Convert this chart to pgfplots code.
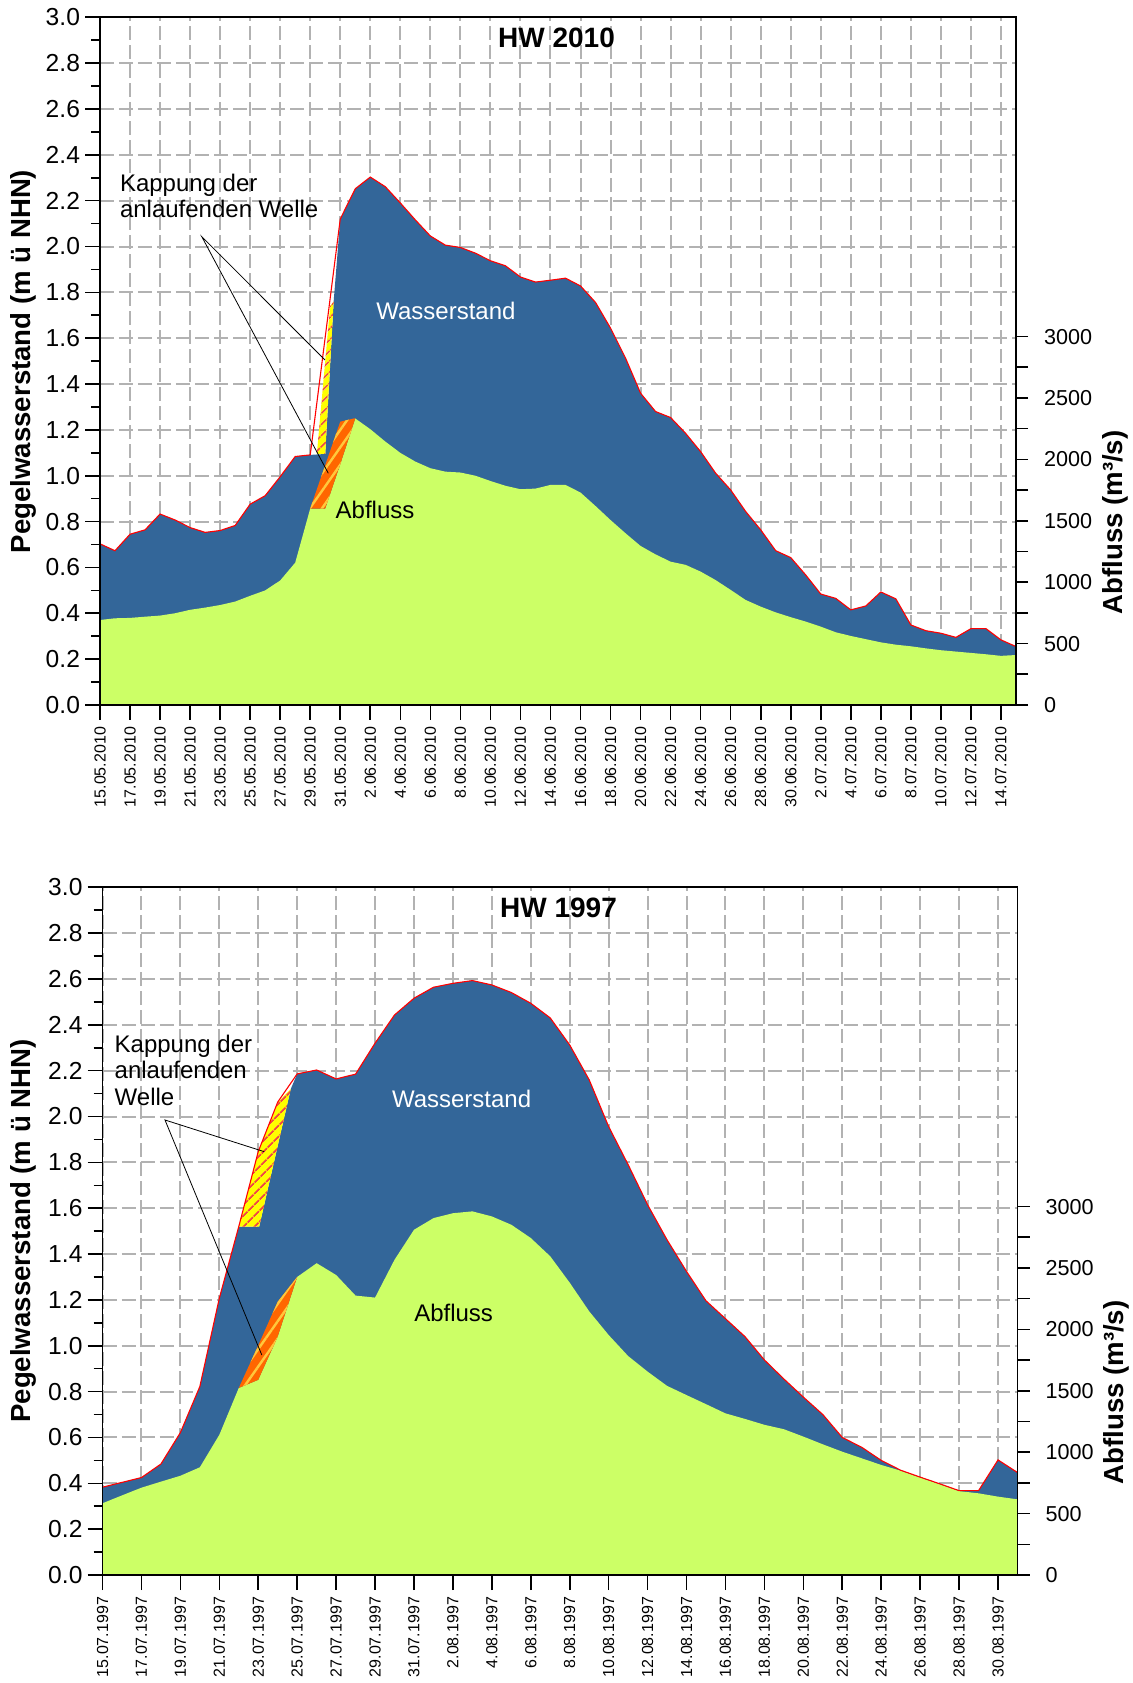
\documentclass[border=0pt]{standalone}
\usepackage{fontspec}
\setmainfont{Liberation Sans}
\usepackage{pgfplots}
\pgfplotsset{compat=1.18}
\usetikzlibrary{patterns.meta}

\definecolor{wblue}{RGB}{51,102,153}
\definecolor{agreen}{RGB}{204,255,102}
\definecolor{gridgray}{RGB}{178,178,178}
\definecolor{hyellow}{RGB}{255,255,0}
\definecolor{horange}{RGB}{255,102,0}
\definecolor{stripeO}{RGB}{255,200,60}
\definecolor{stripeY}{RGB}{240,70,70}

\newcommand{\ytl}{\fontsize{12.3}{14}\selectfont}
\newcommand{\rtl}{\fontsize{10.8}{12}\selectfont}
\newcommand{\xtl}{\fontsize{8}{9.6}\selectfont}
\newcommand{\axl}{\fontsize{13.8}{16}\selectfont\bfseries}
\newcommand{\ann}{\fontsize{12}{14}\selectfont}
\newcommand{\ttl}{\fontsize{14}{16}\selectfont\bfseries}

\pgfplotsset{
  base/.style={scale only axis, width=458pt, height=343.85pt, anchor=south west, enlargelimits=false},
  leftY/.style={ymin=0, ymax=3, ytick={0,0.2,0.4,0.6,0.8,1,1.2,1.4,1.6,1.8,2,2.2,2.4,2.6,2.8,3}},
  gridax/.style={base, leftY, xmajorgrids, ymajorgrids,
    major grid style={draw=gridgray, line width=1pt, dash pattern=on 7pt off 2.5pt},
    axis line style={draw=none}, major tick length=0pt, minor tick length=0pt,
    xticklabels={}, yticklabels={}},
  hidden/.style={base, hide axis},
  frameax/.style={base, leftY, axis line style={line width=0.85pt, black},
    tick pos=left, tick align=outside, major tick length=7.5pt, minor tick length=4.5pt,
    every tick/.style={black, line width=0.8pt},
    minor ytick={0.1,0.3,0.5,0.7,0.9,1.1,1.3,1.5,1.7,1.9,2.1,2.3,2.5,2.7,2.9},
    yticklabels={0.0,0.2,0.4,0.6,0.8,1.0,1.2,1.4,1.6,1.8,2.0,2.2,2.4,2.6,2.8,3.0},
    yticklabel style={font=\ytl, xshift=1pt},
    xticklabel style={font=\xtl, rotate=90, anchor=east},
    /pgf/number format/assume math mode=true},
  rightax/.style={base, ymin=0, ymax=5600, axis y line*=right, axis x line=none,
    xmin=0, xmax=1, ytick={0,500,1000,1500,2000,2500,3000},
    minor ytick={250,750,1250,1750,2250,2750},
    yticklabels={0,500,1000,1500,2000,2500,3000},
    tick align=outside, major tick length=6pt, minor tick length=6pt,
    every tick/.style={black, line width=0.8pt},
    axis line style={line width=0.85pt, black},
    yticklabel style={font=\rtl, xshift=4.5pt},
    /pgf/number format/assume math mode=true},
  bluefill/.style={draw=none, fill=wblue},
  greenfill/.style={draw=none, fill=agreen},
  yhatch/.style={draw=none, fill=hyellow, postaction={pattern={Lines[angle=45,distance=4pt,line width=0.9pt]}, pattern color=stripeY}},
  ohatch/.style={draw=none, fill=horange, postaction={pattern={Lines[angle=55,distance=5pt,line width=1.2pt]}, pattern color=stripeO}},
  redline/.style={red, line width=0.55pt, no markers},
}

\begin{document}
\begin{tikzpicture}
\useasboundingbox (0,0) rectangle (566pt,841.5pt);

%%%%%%%%%%%%%%%% TOP PANEL: HW 2010 %%%%%%%%%%%%%%%%
\begin{axis}[gridax, at={(50pt,489pt)}, xmin=0, xmax=61, xtick={0,2,...,60}]
 % Wasserstand (capped), m
 \addplot[bluefill] coordinates {(0,0.703)(1,0.673)(2,0.745)(3,0.764)(4,0.833)(5,0.807)(6,0.774)(7,0.753)(8,0.761)(9,0.783)(10,0.876)(11,0.913)(12,0.996)(13,1.084)(14,1.091)(15,1.095)(15.56,1.76)(16,2.12)(17,2.252)(18,2.303)(19,2.261)(20,2.19)(21,2.116)(22,2.046)(23,2.006)(24,1.996)(25,1.971)(26,1.938)(27,1.916)(28,1.867)(29,1.845)(30,1.853)(31,1.862)(32,1.828)(33,1.756)(34,1.644)(35,1.513)(36,1.36)(37,1.28)(38,1.254)(39,1.185)(40,1.105)(41,1.011)(42,0.938)(43,0.844)(44,0.764)(45,0.673)(46,0.643)(47,0.567)(48,0.484)(49,0.465)(50,0.415)(51,0.432)(52,0.493)(53,0.463)(54,0.349)(55,0.324)(56,0.313)(57,0.295)(58,0.333)(59,0.333)(60,0.284)(61,0.255)} \closedcycle;
 % Kappung Wasserstand
 \addplot[yhatch] coordinates {(14.44,1.095)(15.0,1.095)(15.56,1.76)(15.33,1.74)} -- cycle;
\end{axis}
\begin{axis}[hidden, at={(50pt,489pt)}, xmin=0, xmax=61, ymin=0, ymax=5600]
 % Abfluss (capped), m3/s
 \addplot[greenfill] coordinates {(0,692)(1,706)(2,709)(3,719)(4,728)(5,747)(6,775)(7,793)(8,814)(9,842)(10,889)(11,933)(12,1014)(13,1159)(14,1600)(15,1600)(16,1960)(17,2333)(18,2246)(19,2145)(20,2053)(21,1982)(22,1928)(23,1900)(24,1893)(25,1867)(26,1824)(27,1785)(28,1757)(29,1762)(30,1792)(31,1792)(32,1730)(33,1620)(34,1506)(35,1398)(36,1295)(37,1226)(38,1167)(39,1141)(40,1086)(41,1017)(42,937)(43,855)(44,801)(45,754)(46,715)(47,679)(48,638)(49,592)(50,562)(51,536)(52,510)(53,491)(54,478)(55,461)(56,446)(57,435)(58,424)(59,413)(60,400)(61,407)} \closedcycle;
 % Kappung Abfluss
 \addplot[ohatch] coordinates {(14,1600)(15,1954)(16,2307)(16.9,2333)(17,2333)(16,1960)(15,1600)} -- cycle;
\end{axis}
\begin{axis}[hidden, at={(50pt,489pt)}, xmin=0, xmax=61, ymin=0, ymax=3]
 % Wasserstand (ungekappt)
 \addplot[redline] coordinates {(0,0.703)(1,0.673)(2,0.745)(3,0.764)(4,0.833)(5,0.807)(6,0.774)(7,0.753)(8,0.761)(9,0.783)(10,0.876)(11,0.913)(12,0.996)(13,1.084)(14,1.091)(16,2.12)(17,2.252)(18,2.303)(19,2.261)(20,2.19)(21,2.116)(22,2.046)(23,2.006)(24,1.996)(25,1.971)(26,1.938)(27,1.916)(28,1.867)(29,1.845)(30,1.853)(31,1.862)(32,1.828)(33,1.756)(34,1.644)(35,1.513)(36,1.36)(37,1.28)(38,1.254)(39,1.185)(40,1.105)(41,1.011)(42,0.938)(43,0.844)(44,0.764)(45,0.673)(46,0.643)(47,0.567)(48,0.484)(49,0.465)(50,0.415)(51,0.432)(52,0.493)(53,0.463)(54,0.349)(55,0.324)(56,0.313)(57,0.295)(58,0.333)(59,0.333)(60,0.284)(61,0.255)};
\end{axis}
\begin{axis}[frameax, at={(50pt,489pt)}, xmin=0, xmax=61, xtick={0,2,...,60},
  xticklabels={15.05.2010,17.05.2010,19.05.2010,21.05.2010,23.05.2010,25.05.2010,27.05.2010,29.05.2010,31.05.2010,2.06.2010,4.06.2010,6.06.2010,8.06.2010,10.06.2010,12.06.2010,14.06.2010,16.06.2010,18.06.2010,20.06.2010,22.06.2010,24.06.2010,26.06.2010,28.06.2010,30.06.2010,2.07.2010,4.07.2010,6.07.2010,8.07.2010,10.07.2010,12.07.2010,14.07.2010}]
\end{axis}
\begin{axis}[rightax, at={(50pt,489pt)}]
\end{axis}

\node[font=\ttl] at (278.25pt,822.5pt) {HW 2010};
\node[font=\ann, anchor=base west, inner sep=0pt] at (59.8pt,745.65pt) {Kappung der};
\node[font=\ann, anchor=base west, inner sep=0pt] at (59.8pt,732.5pt) {anlaufenden Welle};
\draw[line width=0.4pt] (162.5pt,661.5pt) -- (100.9pt,723.15pt) -- (164.15pt,604.85pt);
\node[font=\ann, text=white, anchor=base] at (222.95pt,681.5pt) {Wasserstand};
\node[font=\ann, anchor=base] at (187.5pt,582.35pt) {Abfluss};
\node[font=\axl, rotate=90] at (11.75pt,660.75pt) {Pegelwasserstand (m ü NHN)};
\node[font=\axl, rotate=90] at (557.5pt,580.25pt) {Abfluss (m³/s)};

%%%%%%%%%%%%%%%% BOTTOM PANEL: HW 1997 %%%%%%%%%%%%%%%%
\begin{axis}[gridax, at={(51.25pt,54pt)}, width=457.5pt, xmin=0, xmax=47, xtick={0,2,...,46}]
 \addplot[bluefill] coordinates {(0,0.383)(1,0.404)(2,0.425)(3,0.484)(4,0.621)(5,0.822)(6,1.207)(7,1.52)(8.05,1.52)(9.67,2.12)(10,2.186)(11,2.203)(12,2.164)(13,2.185)(14,2.32)(15,2.443)(16,2.516)(17,2.564)(18,2.581)(19,2.593)(20,2.574)(21,2.541)(22,2.494)(23,2.43)(24,2.312)(25,2.16)(26,1.956)(27,1.79)(28,1.615)(29,1.462)(30,1.324)(31,1.196)(32,1.118)(33,1.04)(34,0.938)(35,0.855)(36,0.776)(37,0.70)(38,0.60)(39,0.557)(40,0.50)(41,0.457)(42,0.427)(43,0.398)(44,0.368)(45,0.368)(46,0.502)(47,0.447)} \closedcycle;
 \addplot[yhatch] coordinates {(7,1.52)(8.05,1.52)(9.67,2.12)(9.04,2.065)(8,1.847)} -- cycle;
\end{axis}
\begin{axis}[hidden, at={(51.25pt,54pt)}, width=457.5pt, xmin=0, xmax=47, ymin=0, ymax=5600]
 \addplot[greenfill] coordinates {(0,584)(1,648)(2,711)(3,760)(4,808)(5,877)(6,1141)(7,1523)(8,1589)(9,1941)(10,2427)(11,2539)(12,2443)(13,2275)(14,2259)(15,2567)(16,2811)(17,2906)(18,2946)(19,2961)(20,2920)(21,2852)(22,2744)(23,2595)(24,2380)(25,2147)(26,1954)(27,1783)(28,1656)(29,1540)(30,1465)(31,1391)(32,1316)(33,1271)(34,1223)(35,1187)(36,1127)(37,1064)(38,1004)(39,950)(40,896)(41,849)(42,793)(43,739)(44,683)(45,665)(46,638)(47,616)} \closedcycle;
 \addplot[ohatch] coordinates {(7,1523)(8,1870)(9,2225)(10,2427)(9,1941)(8,1589)} -- cycle;
\end{axis}
\begin{axis}[hidden, at={(51.25pt,54pt)}, width=457.5pt, xmin=0, xmax=47, ymin=0, ymax=3]
 \addplot[redline] coordinates {(0,0.383)(1,0.404)(2,0.425)(3,0.484)(4,0.621)(5,0.822)(6,1.207)(7,1.52)(8,1.847)(9,2.063)(10,2.186)(11,2.203)(12,2.164)(13,2.185)(14,2.32)(15,2.443)(16,2.516)(17,2.564)(18,2.581)(19,2.593)(20,2.574)(21,2.541)(22,2.494)(23,2.43)(24,2.312)(25,2.16)(26,1.956)(27,1.79)(28,1.615)(29,1.462)(30,1.324)(31,1.196)(32,1.118)(33,1.04)(34,0.938)(35,0.855)(36,0.776)(37,0.70)(38,0.60)(39,0.557)(40,0.50)(41,0.457)(42,0.427)(43,0.398)(44,0.368)(45,0.368)(46,0.502)(47,0.447)};
\end{axis}
\begin{axis}[frameax, at={(51.25pt,54pt)}, width=457.5pt, xmin=0, xmax=47, xtick={0,2,...,46},
  xticklabels={15.07.1997,17.07.1997,19.07.1997,21.07.1997,23.07.1997,25.07.1997,27.07.1997,29.07.1997,31.07.1997,2.08.1997,4.08.1997,6.08.1997,8.08.1997,10.08.1997,12.08.1997,14.08.1997,16.08.1997,18.08.1997,20.08.1997,22.08.1997,24.08.1997,26.08.1997,28.08.1997,30.08.1997}]
\end{axis}
\begin{axis}[rightax, at={(51.25pt,54pt)}, width=457.5pt]
\end{axis}

\node[font=\ttl] at (279.25pt,387.5pt) {HW 1997};
\node[font=\ann, anchor=base west, inner sep=0pt] at (57.15pt,315.15pt) {Kappung der};
\node[font=\ann, anchor=base west, inner sep=0pt] at (57.15pt,302pt) {anlaufenden};
\node[font=\ann, anchor=base west, inner sep=0pt] at (57.15pt,288.5pt) {Welle};
\draw[line width=0.4pt] (132.15pt,265.65pt) -- (82.5pt,281.5pt) -- (130.9pt,164pt);
\node[font=\ann, text=white, anchor=base] at (230.8pt,287.65pt) {Wasserstand};
\node[font=\ann, anchor=base] at (226.8pt,180.65pt) {Abfluss};
\node[font=\axl, rotate=90] at (11.75pt,226pt) {Pegelwasserstand (m ü NHN)};
\node[font=\axl, rotate=90] at (558pt,145.25pt) {Abfluss (m³/s)};
\end{tikzpicture}
\end{document}
